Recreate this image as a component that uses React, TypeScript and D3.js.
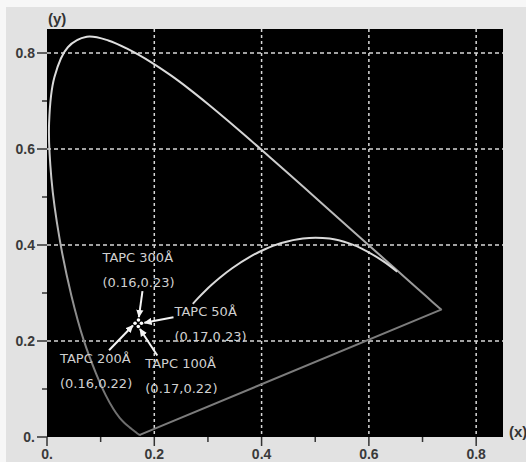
import React from "react";
import * as d3 from "d3";

// CIE 1931 spectral locus (380-700 nm)
const wavelengths = [380, 390, 400, 410, 420, 430, 440, 450, 455, 460, 465, 470, 475, 480, 485, 490, 495, 500, 505, 510, 515, 520, 525, 530, 535, 540, 545, 550, 555, 560, 565, 570, 575, 580, 585, 590, 595, 600, 605, 610, 620, 630, 640, 650, 660, 680, 700];
const locusX = [0.1741, 0.1738, 0.1733, 0.1726, 0.1714, 0.1689, 0.1644, 0.1566, 0.151, 0.144, 0.1355, 0.1241, 0.1096, 0.0913, 0.0687, 0.0454, 0.0235, 0.0082, 0.0039, 0.0139, 0.0389, 0.0743, 0.1142, 0.1547, 0.1929, 0.2296, 0.2658, 0.3016, 0.3373, 0.3731, 0.4087, 0.4441, 0.4788, 0.5125, 0.5448, 0.5752, 0.6029, 0.627, 0.6482, 0.6658, 0.6915, 0.7079, 0.719, 0.726, 0.73, 0.7334, 0.7347];
const locusY = [0.005, 0.0049, 0.0048, 0.0048, 0.0051, 0.0069, 0.0109, 0.0177, 0.0227, 0.0297, 0.0399, 0.0578, 0.0868, 0.1327, 0.2007, 0.295, 0.4127, 0.5384, 0.6548, 0.7502, 0.812, 0.8338, 0.8262, 0.8059, 0.7816, 0.7543, 0.7243, 0.6923, 0.6589, 0.6245, 0.5896, 0.5547, 0.5202, 0.4866, 0.4544, 0.4242, 0.3965, 0.3725, 0.3514, 0.334, 0.3083, 0.292, 0.2809, 0.274, 0.27, 0.2666, 0.2653];

// Planckian locus
const planckTemps = [1000, 1200, 1500, 1667, 2000, 2500, 3000, 3500, 4000, 5000, 6000, 7000, 8000, 10000, 12000];
const planckX = [0.6528, 0.6251, 0.5857, 0.5646, 0.5267, 0.477, 0.4369, 0.4053, 0.3805, 0.3451, 0.3221, 0.3064, 0.2952, 0.2807, 0.2718];
const planckY = [0.3444, 0.3674, 0.3931, 0.4029, 0.4133, 0.4137, 0.4041, 0.3907, 0.3768, 0.3516, 0.3318, 0.3166, 0.3048, 0.2884, 0.2775];

// measured samples
const sampleNames = ["TAPC 300Å", "TAPC 50Å", "TAPC 200Å", "TAPC 100Å"];
const sampleCoords = ["(0.16,0.23)", "(0.17,0.23)", "(0.16,0.22)", "(0.17,0.22)"];
const sampleX = [0.1705, 0.1761, 0.1641, 0.1702];
const sampleY = [0.2437, 0.2369, 0.2369, 0.2302];

const majorTicks = [0, 0.2, 0.4, 0.6, 0.8];
const tickLabels = ["0.", "0.2", "0.4", "0.6", "0.8"];
const minorTicks = [0.1, 0.3, 0.5, 0.7];
const gridTicks = [0.2, 0.4, 0.6, 0.8];

// label/arrow placement relative to each point (px)
const callouts = [
  { tx: -36, ty: -58, ax: 4, ay: -29 },
  { tx: 33, ty: -7, ax: 32, ay: -6 },
  { tx: -75, ty: 40, ax: -26, ay: 27 },
  { tx: 7, ty: 41, ax: 19, ay: 29 },
];

const W = 526;
const H = 462;
const left = 47, right = 503, top = 29, bottom = 437;

const App = () => {
  const x = d3.scaleLinear().domain([0, 0.85]).range([left, right]);
  const y = d3.scaleLinear().domain([0, 0.85]).range([bottom, top]);

  const locus = d3
    .line<number>()
    .x((_, i) => x(locusX[i]))
    .y((_, i) => y(locusY[i]))
    .curve(d3.curveCatmullRom.alpha(0.5));

  const planck = d3
    .line<number>()
    .x((_, i) => x(planckX[i]))
    .y((_, i) => y(planckY[i]))
    .curve(d3.curveCatmullRom);

  const n = wavelengths.length - 1;

  const labelFont = "'Liberation Sans', Arial, sans-serif";
  const annFont = "'DejaVu Sans', Verdana, sans-serif";

  return (
    <div style={{ position: "absolute", left: 0, top: 0 }}>
      <svg width={W} height={H} style={{ display: "block" }}>
        <defs>
          <marker id="arr" viewBox="0 0 10 10" refX="9" refY="5" markerWidth="8" markerHeight="8" markerUnits="userSpaceOnUse" orient="auto">
            <path d="M0,0.5 L10,5 L0,9.5 z" fill="#f4f4f4" />
          </marker>
          <linearGradient id="locusShade" gradientUnits="userSpaceOnUse" x1={0} x2={0} y1={y(0.85)} y2={y(0)}>
            <stop offset="0" stopColor="#e0e0e0" />
            <stop offset="0.3" stopColor="#d2d2d2" />
            <stop offset="0.55" stopColor="#aaaaaa" />
            <stop offset="0.7" stopColor="#8a8a8a" />
            <stop offset="1" stopColor="#6a6a6a" />
          </linearGradient>
        </defs>
        <rect x={0} y={0} width={W} height={H} fill="#f7f7f7" />
        <rect x={6} y={7} width={W - 6} height={H - 7} fill="#e2e2e2" />
        <rect x={left} y={top} width={right - left} height={bottom - top} fill="#000" />

        {/* grid */}
        {gridTicks.map((t) => (
          <g key={"g" + t}>
            <line x1={x(t)} x2={x(t)} y1={top} y2={bottom} stroke="#d8d8d8" strokeWidth={1.5} strokeDasharray="3,3" />
            <line x1={left} x2={right} y1={y(t)} y2={y(t)} stroke="#d8d8d8" strokeWidth={1.5} strokeDasharray="4,3" />
          </g>
        ))}

        {/* spectral locus + line of purples */}
        <path d={locus(wavelengths) || ""} fill="none" stroke="url(#locusShade)" strokeWidth={2} strokeLinejoin="round" />
        <line x1={x(locusX[n])} y1={y(locusY[n])} x2={x(locusX[0])} y2={y(locusY[0])} stroke="#7c7c7c" strokeWidth={2} strokeLinecap="round" />

        {/* Planckian locus */}
        <path d={planck(planckTemps) || ""} fill="none" stroke="#dadada" strokeWidth={2} />

        {/* samples */}
        {sampleNames.map((name, i) => {
          const px = x(sampleX[i]);
          const py = y(sampleY[i]);
          const c = callouts[i];
          const len = Math.hypot(c.ax, c.ay);
          const gap = 3;
          return (
            <g key={name}>
              <line
                x1={px + c.ax}
                y1={py + c.ay}
                x2={px + (c.ax * gap) / len}
                y2={py + (c.ay * gap) / len}
                stroke="#f4f4f4"
                strokeWidth={2}
                markerEnd="url(#arr)"
              />
              <text x={px + c.tx} y={py + c.ty} fill="#d0d0d0" fontFamily={annFont} fontSize={13}>
                {name}
              </text>
              <text x={px + c.tx} y={py + c.ty + 25} fill="#d0d0d0" fontFamily={annFont} fontSize={13}>
                {sampleCoords[i]}
              </text>
            </g>
          );
        })}
        {sampleNames.map((name, i) => (
          <circle key={"p" + name} cx={x(sampleX[i])} cy={y(sampleY[i])} r={1.8} fill="#fff" />
        ))}

        {/* axes */}
        {majorTicks.map((t, i) => (
          <g key={"m" + t}>
            <line x1={left - 10} x2={left} y1={y(t)} y2={y(t)} stroke="#333" strokeWidth={1.5} />
            <line x1={x(t)} x2={x(t)} y1={bottom} y2={bottom + 9} stroke="#333" strokeWidth={1.5} />
            <text x={left - 12} y={y(t) + 5} textAnchor="end" fill="#3a3a3a" fontFamily={labelFont} fontWeight="bold" fontSize={14}>
              {tickLabels[i]}
            </text>
            <text x={x(t)} y={bottom + 22} textAnchor="middle" fill="#3a3a3a" fontFamily={labelFont} fontWeight="bold" fontSize={14}>
              {tickLabels[i]}
            </text>
          </g>
        ))}
        {minorTicks.map((t) => (
          <g key={"n" + t}>
            <line x1={left - 5} x2={left} y1={y(t)} y2={y(t)} stroke="#333" strokeWidth={1.5} />
            <line x1={x(t)} x2={x(t)} y1={bottom} y2={bottom + 5} stroke="#333" strokeWidth={1.5} />
          </g>
        ))}
        <text x={48} y={24} fill="#333" fontFamily={labelFont} fontWeight="bold" fontSize={15}>
          (y)
        </text>
        <text x={509} y={437} fill="#333" fontFamily={labelFont} fontWeight="bold" fontSize={15}>
          (x)
        </text>
      </svg>
    </div>
  );
};

export default App;
